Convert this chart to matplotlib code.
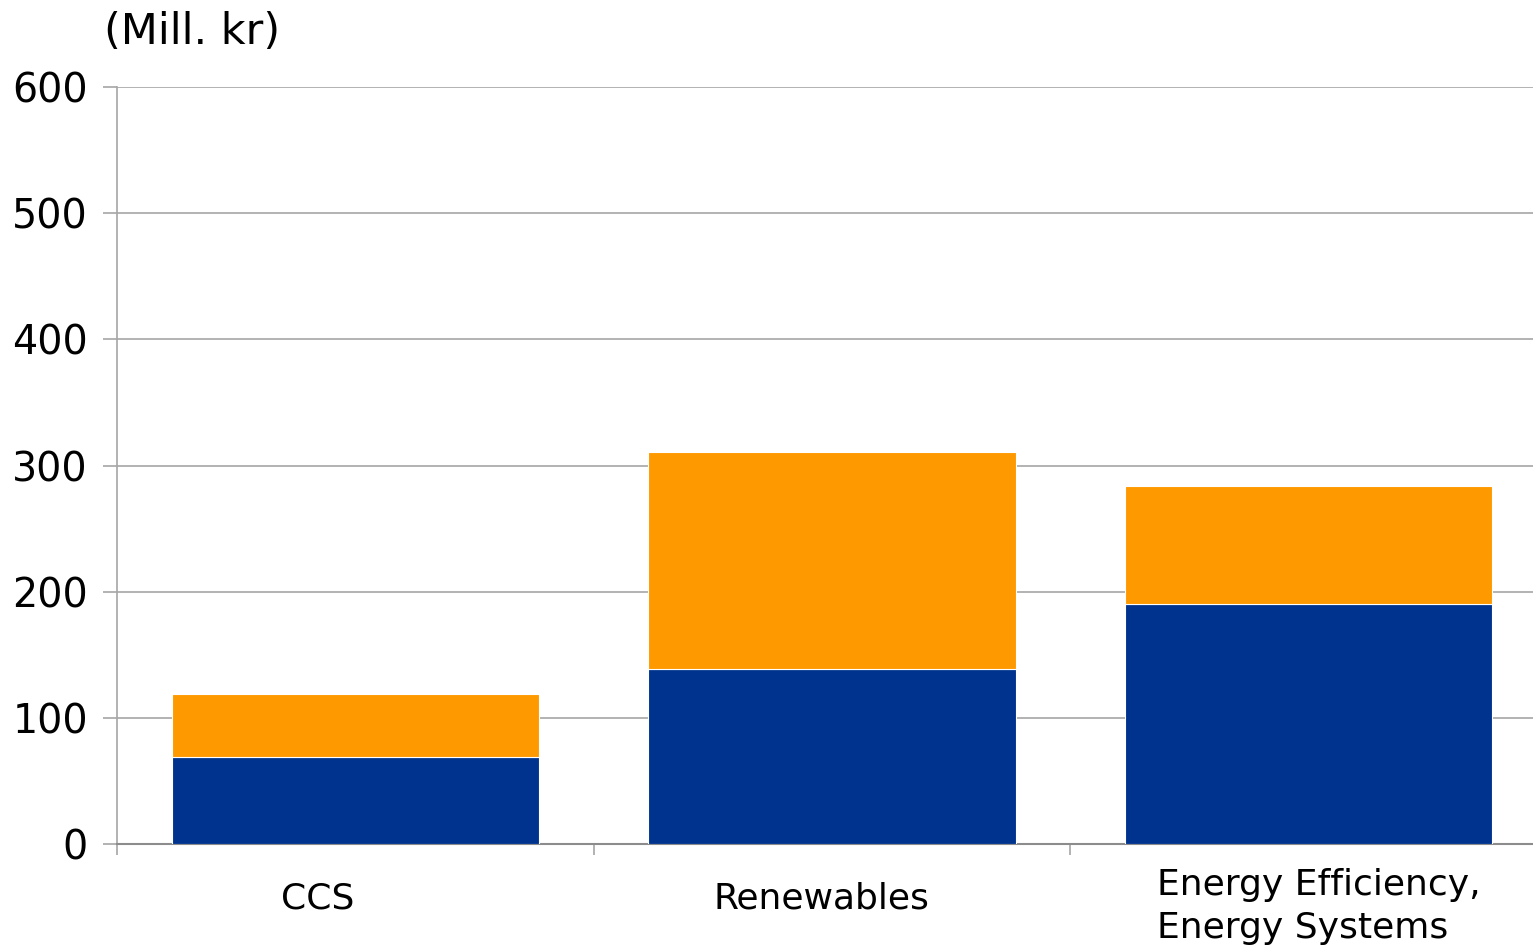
import matplotlib
matplotlib.use("Agg")
import matplotlib.pyplot as plt
import numpy as np

# Stacked funding per programme area (million NOK)
categories = ["CCS", "Renewables", "Energy Efficiency,\nEnergy Systems"]
lower_values = [69, 139, 190]
upper_values = [50, 172, 94]
y_ticks = [0, 100, 200, 300, 400, 500, 600]

BLUE = "#00338E"
ORANGE = "#FF9900"
GRID = "#A6A6A6"

plt.rcParams["font.family"] = ["DejaVu Sans"]

W, H = 1533, 950
fig = plt.figure(figsize=(W / 100, H / 100), dpi=100)
# plot area runs past the right edge of the canvas
left, right = 117 / W, 1547 / W
bottom, top = (H - 844) / H, (H - 87) / H
ax = fig.add_axes([left, bottom, right - left, top - bottom])

x = np.arange(len(categories))
width = 0.77
ax.bar(x, lower_values, width, color=BLUE, edgecolor="white", linewidth=0.8, zorder=3)
ax.bar(x, upper_values, width, bottom=lower_values, color=ORANGE,
       edgecolor="white", linewidth=0.8, zorder=3)

ax.set_xlim(-0.5, 2.5)
ax.set_ylim(0, 600)
ax.set_yticks(y_ticks)
ax.set_yticklabels([str(v) for v in y_ticks], fontsize=28.5)
ax.yaxis.grid(True, color=GRID, linewidth=1.2, zorder=0)
ax.set_axisbelow(True)

# category boundary ticks on the x axis
ax.set_xticks([-0.5, 0.5, 1.5, 2.5])
ax.set_xticklabels([])
ax.tick_params(axis="x", direction="out", length=8, width=1.2, color=GRID)
ax.tick_params(axis="y", direction="out", length=10, width=1.2, color=GRID, pad=11)

for side in ["top", "right"]:
    ax.spines[side].set_visible(False)
ax.spines["left"].set_color(GRID)
ax.spines["left"].set_linewidth(1.2)
ax.spines["bottom"].set_color("#8C8C8C")
ax.spines["bottom"].set_linewidth(1.5)

# category labels below the axis
trans = ax.get_xaxis_transform()
ax.text(x[0] - 0.08, -0.072, categories[0], transform=trans, ha="center",
        va="center", fontsize=26)
ax.text(x[1] - 0.023, -0.072, categories[1], transform=trans, ha="center",
        va="center", fontsize=26)
ax.text(x[2] - 0.319, -0.083, categories[2], transform=trans, ha="left",
        va="center", fontsize=26, linespacing=1.33)

fig.text(104 / W, 1 - 32 / H, "(Mill. kr)", ha="left", va="center", fontsize=31)

fig.savefig("out.png", dpi=100)
